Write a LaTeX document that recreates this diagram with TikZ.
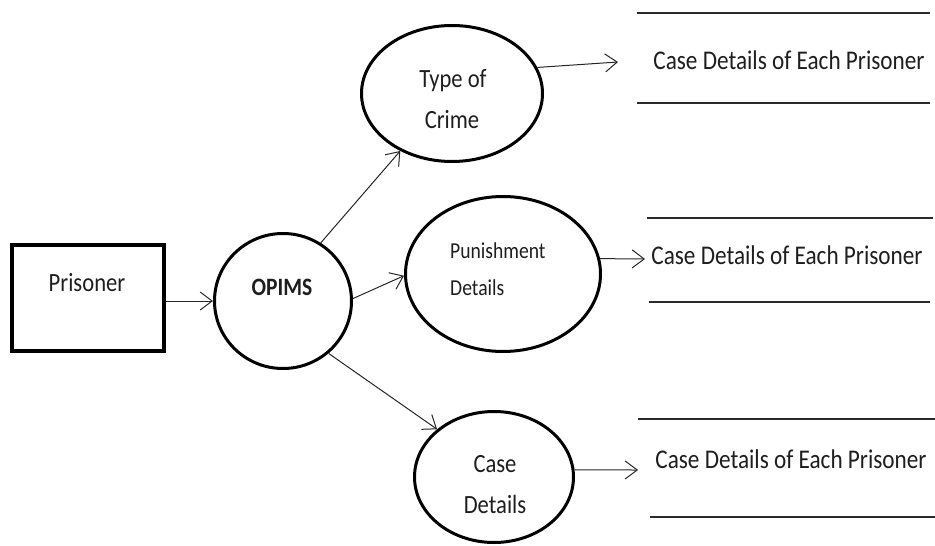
\documentclass[tikz,border=0pt]{standalone}
\usepackage{fontspec}
\setmainfont{Carlito}[FakeStretch=0.86]
\usetikzlibrary{shapes.geometric,arrows.meta}
\definecolor{txt}{HTML}{1E1E1E}
\definecolor{storeline}{HTML}{2A2A2A}
\tikzset{
  procshape/.style={ellipse, draw=black, line width=3pt, inner sep=0pt},
  entitybox/.style={rectangle, draw=black, line width=4pt, inner sep=0pt},
  lbl/.style={text=txt, inner sep=0pt, font=\fontsize{26.3}{30}\selectfont},
  smalllbl/.style={text=txt, inner sep=0pt, font=\fontsize{22.8}{26}\selectfont},
  boldlbl/.style={text=txt, inner sep=0pt, font=\fontsize{25}{28}\selectfont\bfseries},
  storelbl/.style={text=txt, inner sep=0pt, font=\fontsize{27}{30}\selectfont},
  flow/.style={draw=black!85, line width=1pt, -{Straight Barb[length=12pt,width=18pt,line width=1pt]}},
  storeedge/.style={draw=storeline, line width=1.3pt}
}
\begin{document}
\begin{tikzpicture}[x=1pt,y=-1pt]
\useasboundingbox (0,0) rectangle (935,546);

% entity
\node[entitybox, minimum width=152pt, minimum height=106pt] (prisoner) at (88,298) {};
\node[lbl, anchor=base] (prisonertxt) at (87,291) {Prisoner};

% processes
\node[procshape, minimum width=137pt, minimum height=135pt] (opims) at (283,301) {};
\node[boldlbl, anchor=base] (opimstxt) at (282,295) {OPIMS};

\node[procshape, minimum width=181pt, minimum height=136pt] (crime) at (452,93.5) {};
\node[lbl, anchor=base] (crimetxta) at (453,87) {Type of};
\node[lbl, anchor=base] (crimetxtb) at (452,128) {Crime};

\node[procshape, minimum width=195pt, minimum height=155pt] (punish) at (503,274) {};
\node[smalllbl, anchor=base west] (punishtxta) at (450,258) {Punishment};
\node[smalllbl, anchor=base west] (punishtxtb) at (450,295) {Details};

\node[procshape, minimum width=159pt, minimum height=131pt] (casedet) at (494,477) {};
\node[lbl, anchor=base] (casetxta) at (495,472) {Case};
\node[lbl, anchor=base] (casetxtb) at (495,513) {Details};

% data stores
\node[storelbl, anchor=base] (store1) at (789,69) {Case Details of Each Prisoner};
\draw[storeedge] (637,13) -- (930,13);
\draw[storeedge] (637,103) -- (930,103);

\node[storelbl, anchor=base] (store2) at (787,264) {Case Details of Each Prisoner};
\draw[storeedge] (647,218) -- (933,218);
\draw[storeedge] (649,302) -- (930,302);

\node[storelbl, anchor=base] (store3) at (791,468) {Case Details of Each Prisoner};
\draw[storeedge] (638,419) -- (935,419);
\draw[storeedge] (650,517) -- (935,517);

\coordinate (s1in) at (618,62);
\coordinate (s2in) at (645,259);
\coordinate (s3in) at (638,470);

% flows
\draw[flow] (prisoner.east |- opims.west) -- (opims.west);
\draw[flow] (opims.57) -- (crime.228);
\draw[flow] (opims.2) -- (punish.181);
\draw[flow] (opims.311) -- (casedet.140);
\draw[flow] (crime.17) -- (s1in);
\draw[flow] (punish.9) -- (s2in);
\draw[flow] (casedet.5) -- (s3in);
\end{tikzpicture}
\end{document}
